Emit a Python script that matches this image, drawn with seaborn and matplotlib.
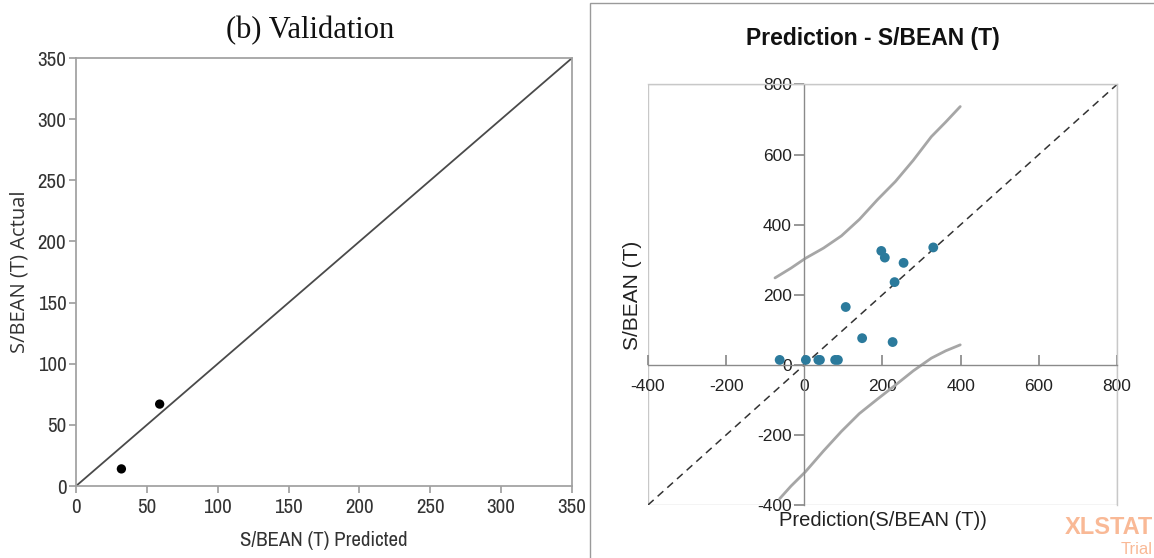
import numpy as np
import pandas as pd
import seaborn as sns
import matplotlib.pyplot as plt
from matplotlib.patches import Rectangle

# left panel: validation points
val_pred = [32, 59]
val_actual = [14, 67]

# right panel: prediction vs observed
pred_x = [-63, 4, 36, 40, 79, 86, 106, 148, 197, 206, 226, 231, 254, 330]
pred_y = [14, 14, 14, 14, 14, 14, 165, 76, 325, 306, 65, 236, 291, 335]

# confidence curves
band_x = [-75, -34, 3, 49, 95, 141, 187, 233, 279, 325, 362, 399]
band_up = [248, 276, 304, 333, 368, 415, 471, 523, 584, 651, 693, 737]
band_lo_x = [-63, -34, 3, 49, 95, 141, 187, 233, 279, 325, 362, 399]
band_lo = [-382, -346, -305, -246, -190, -139, -98, -58, -17, 19, 40, 57]

sns.set_theme(style="white")
plt.rcParams["axes.unicode_minus"] = False
narrow = ['Archivo Narrow', 'Liberation Sans', 'DejaVu Sans']
arial = ['Liberation Sans', 'DejaVu Sans']

fig = plt.figure(figsize=(11.54, 5.58), dpi=100)

# ---- left panel ----
ax1 = fig.add_axes([0.0659, 0.129, 0.4298, 0.767])
ax1.plot([0, 350], [0, 350], color="#4a4a4a", lw=1.3)
sns.scatterplot(x=val_pred, y=val_actual, ax=ax1, color="black", s=45, edgecolor="none")
ax1.set_xlim(0, 350)
ax1.set_ylim(0, 350)
ax1.set_xticks(range(0, 351, 50))
ax1.set_yticks(range(0, 351, 50))
for s in ax1.spines.values():
    s.set_color("#a0a0a0")
ax1.tick_params(axis="both", which="both", direction="out", length=5, color="#a0a0a0",
                labelsize=15, labelcolor="#333333", bottom=True, left=True)
ax1.tick_params(axis="y", pad=2)
for lab in ax1.get_xticklabels() + ax1.get_yticklabels():
    lab.set_family(narrow)
ax1.set_xlabel("S/BEAN (T) Predicted", fontsize=15, color="#333333", family=narrow, labelpad=10)
ax1.set_ylabel("S/BEAN (T) Actual", fontsize=14.5, color="#333333",
               family=['Open Sans', 'DejaVu Sans'], labelpad=6)
fig.text(0.2686, 0.945, "(b) Validation", ha="center", va="center", fontsize=22,
         family=['Liberation Serif', 'DejaVu Serif'], color="#111111")

# separator / frame of right panel
fig.patches.append(Rectangle((590 / 1154, -0.05), 0.6, 1.05 - 3 / 558, transform=fig.transFigure,
                             fill=False, edgecolor="#9a9a9a", lw=1.0))

# ---- right panel ----
ax2 = fig.add_axes([0.5615, 0.095, 0.4064, 0.7536])
ax2.plot([-400, 800], [-400, 800], color="#333333", lw=1.1, ls=(0, (5, 3.5)))
sns.lineplot(x=band_x, y=band_up, ax=ax2, color="#a6a6a6", lw=2, sort=False)
sns.lineplot(x=band_lo_x, y=band_lo, ax=ax2, color="#a6a6a6", lw=2, sort=False)
sns.scatterplot(x=pred_x, y=pred_y, ax=ax2, color="#2b7a9c", s=50, edgecolor="none", zorder=5)
ax2.set_xlim(-400, 800)
ax2.set_ylim(-400, 800)
ax2.set_xticks(range(-400, 801, 200))
ax2.set_yticks(range(-400, 801, 200))
for s in ax2.spines.values():
    s.set_color("#c8c8c8")
    s.set_linewidth(1.0)
ax2.spines["left"].set_position(("data", 0))
ax2.spines["bottom"].set_position(("data", 0))
ax2.spines["left"].set_color("#8a8a8a")
ax2.spines["bottom"].set_color("#8a8a8a")
# outer light frame
ax2.add_patch(Rectangle((0, 0), 1, 1, transform=ax2.transAxes, fill=False,
                        edgecolor="#c8c8c8", lw=1.0, zorder=0))
ax2.tick_params(axis="x", direction="in", length=7, color="#8a8a8a", bottom=True,
                labelsize=12.5, labelcolor="#222222", pad=10)
ax2.tick_params(axis="y", direction="out", length=7, color="#8a8a8a", left=True,
                labelsize=12.5, labelcolor="#222222", pad=2)
for lab in ax2.get_xticklabels() + ax2.get_yticklabels():
    lab.set_family(arial)
ax2.set_xlabel("")
ax2.set_ylabel("")
fig.text(883 / 1154, 1 - 521 / 558, "Prediction(S/BEAN (T))", ha="center", va="center",
         fontsize=14.5, color="#222222", family=arial)
fig.text(633 / 1154, 1 - 295 / 558, "S/BEAN (T)", ha="center", va="center", rotation=90,
         fontsize=15, color="#222222", family=arial)
fig.text(873 / 1154, 1 - 38 / 558, "Prediction - S/BEAN (T)", ha="center", va="center",
         fontsize=16.5, fontweight="bold", color="#111111", family=arial)

# watermark
fig.text(1065 / 1154, 1 - 527 / 558, "XLSTAT", ha="left", va="center", fontsize=17,
         fontweight="bold", color="#f9b996", family=arial)
fig.text(1121 / 1154, 1 - 550 / 558, "Trial", ha="left", va="center", fontsize=12,
         color="#f9b996", family=arial)

fig.savefig("out.png", dpi=100)
